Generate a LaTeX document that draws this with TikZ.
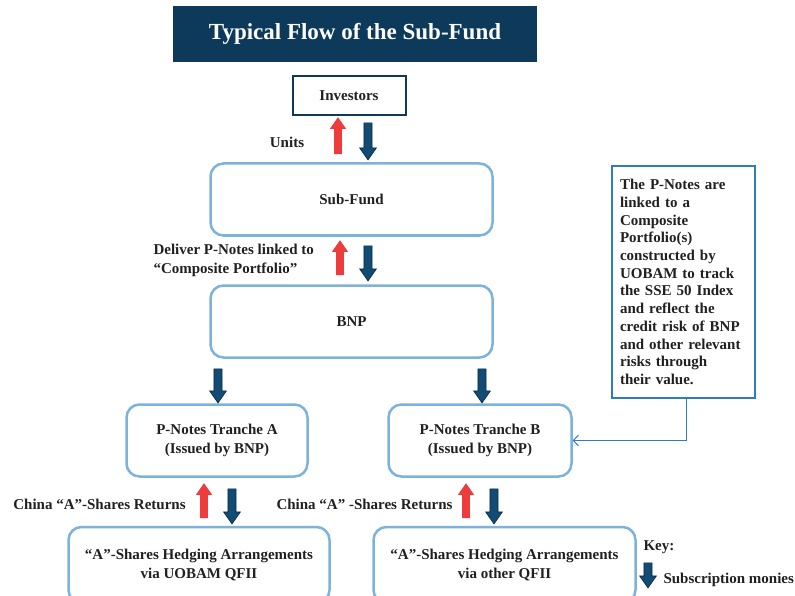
\documentclass[tikz,border=0pt]{standalone}
\usepackage{fontspec}
\setmainfont{Liberation Serif}
\usetikzlibrary{shapes.arrows,arrows.meta}
\definecolor{navyfig}{RGB}{13,58,91}
\definecolor{lightbluefig}{RGB}{125,178,218}
\definecolor{calloutfig}{RGB}{46,125,190}
\definecolor{redfig}{RGB}{238,59,59}
\definecolor{bluefig}{RGB}{18,75,115}
\definecolor{textfig}{RGB}{35,31,32}
\tikzset{
    every node/.style={font=\fontsize{15}{19}\selectfont\bfseries, text=textfig},
    titlebox/.style={fill=navyfig, minimum width=364pt, minimum height=56pt, text=white, font=\fontsize{23}{27}\selectfont\bfseries},
    investorbox/.style={draw=navyfig, line width=2pt, minimum width=113pt, minimum height=39pt},
    flowbox/.style={draw=lightbluefig, line width=2.5pt, rounded corners=13pt, minimum height=72pt, align=center},
    calloutbox/.style={draw=calloutfig, line width=1.3pt, minimum width=143pt, minimum height=232pt, align=left, text width=127pt, font=\fontsize{15}{17.7}\selectfont\bfseries},
    calloutline/.style={draw=calloutfig, line width=1pt, -{Straight Barb[length=5pt,width=11pt]}},
    blockarrow/.style={single arrow, inner xsep=0pt, inner ysep=3.7pt, minimum width=16pt, single arrow head extend=4.3pt, single arrow tip angle=70},
    redup/.style={blockarrow, fill=redfig, rotate=90},
    bluedown/.style={blockarrow, fill=bluefig, draw=navyfig!80!black, line width=0.7pt, rotate=-90}
}
\begin{document}
\begin{tikzpicture}[x=1pt,y=-1pt]
    \useasboundingbox (0,0) rectangle (795,596);

    \node[titlebox] (title) at (355,34) {Typical Flow of the Sub-Fund};
    \node[investorbox] (investors) at (349,96) {Investors};
    \node[flowbox, minimum width=282pt] (subfund) at (351.5,199.5) {Sub-Fund};
    \node[flowbox, minimum width=282pt] (bnp) at (351.5,321.5) {BNP};
    \node[flowbox, minimum width=181pt] (trancheA) at (217,440.5) {P-Notes Tranche A\\(Issued by BNP)};
    \node[flowbox, minimum width=183pt] (trancheB) at (480,440.5) {P-Notes Tranche B\\(Issued by BNP)};
    \node[flowbox, minimum width=261pt, minimum height=76pt] (hedgeA) at (199,565) {“A”-Shares Hedging Arrangements\\via UOBAM QFII};
    \node[flowbox, minimum width=262pt, minimum height=76pt] (hedgeB) at (504.5,565) {“A”-Shares Hedging Arrangements\\via other QFII};

    \node[calloutbox] (callout) at (683.5,282) {The P-Notes are\\linked to a\\Composite\\Portfolio(s)\\constructed by\\UOBAM to track\\the SSE 50 Index\\and reflect the\\credit risk of BNP\\and other relevant\\risks through\\their value.};
    \coordinate (elbow) at (686,442);
    \draw[calloutline] (callout.south -| elbow) |- (trancheB.east);

    \node[redup, minimum height=37pt] (up1) at (338,138.5) {};
    \node[bluedown, minimum height=37pt] (down1) at (368,138.5) {};
    \node[redup, minimum height=35pt] (up2) at (340,260.5) {};
    \node[bluedown, minimum height=35pt] (down2) at (368,260.5) {};
    \node[bluedown, minimum height=34pt] (downA) at (218,383) {};
    \node[bluedown, minimum height=34pt] (downB) at (482,383) {};
    \node[redup, minimum height=35pt] (up3) at (204,503.5) {};
    \node[bluedown, minimum height=35pt] (down3) at (232,503.5) {};
    \node[redup, minimum height=35pt] (up4) at (466,503.5) {};
    \node[bluedown, minimum height=35pt] (down4) at (494,503.5) {};

    \node (units) at (287,142) {Units};
    \node[anchor=west, align=left] (deliver) at (150,260.5) {Deliver P-Notes linked to\\“Composite Portfolio”};
    \node (returnsA) at (99.5,504) {China “A”-Shares Returns};
    \node (returnsB) at (364.5,504) {China “A” -Shares Returns};

    \node[anchor=west] (key) at (640,547) {Key:};
    \node[bluedown, minimum height=25pt] (keyarrow) at (648,572.5) {};
    \node[anchor=west] (subscription) at (660,580) {Subscription monies};
\end{tikzpicture}
\end{document}
